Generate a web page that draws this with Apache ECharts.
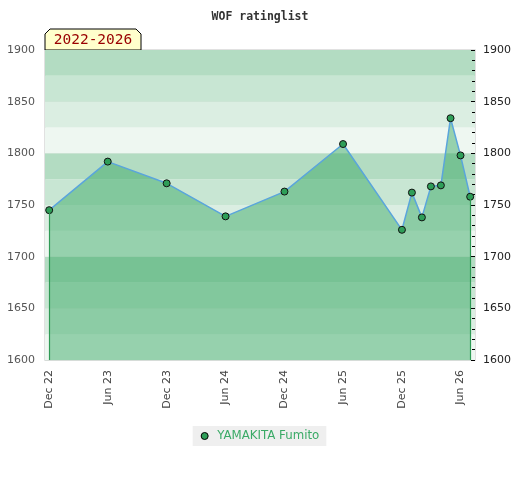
<!DOCTYPE html>
<html>
<head>
<meta charset="utf-8">
<script src="https://cdn.jsdelivr.net/npm/echarts@6/dist/echarts.min.js"></script>
<style>
html,body{margin:0;padding:0;background:#fff;}
#chart{width:520px;height:480px;}
</style>
</head>
<body>
<div id="chart"></div>
<script>
// ---- data ----
const dates = ['2022-12-01','2023-06-01','2023-12-01','2024-06-01','2024-12-01','2025-06-01','2025-12-01','2026-01-01','2026-02-01','2026-03-01','2026-04-01','2026-05-01','2026-06-01','2026-07-01'];
const ratings = [1745,1792,1771,1739,1763,1809,1726,1762,1738,1768,1769,1834,1798,1758];
const tickDates = ['2022-12-01','2023-06-01','2023-12-01','2024-06-01','2024-12-01','2025-06-01','2025-12-01','2026-06-01'];
const tickLabels = ['Dec 22','Jun 23','Dec 23','Jun 24','Dec 24','Jun 25','Dec 25','Jun 26'];
const playerName = 'YAMAKITA Fumito';
const titleText = 'WOF ratinglist';
const periodText = '2022-2026';

const toTime = d => echarts.time.parse(d).getTime();
const tickTimes = tickDates.map(toTime);
const seriesData = dates.map((d, i) => [toTime(d), ratings[i]]);
const first = seriesData[0], last = seriesData[seriesData.length - 1];

const chart = echarts.init(document.getElementById('chart'));
chart.setOption({
  animation: false,
  backgroundColor: '#fff',
  title: {
    text: titleText, left: 'center', top: 6,
    textStyle: { fontFamily: 'DejaVu Sans Mono', fontWeight: 'bold', fontSize: 11.5, color: '#333' }
  },
  grid: { left: 45, right: 45, top: 50, bottom: 120, show: true, borderColor: '#d8d8d8', borderWidth: 1.5, backgroundColor: 'transparent' },
  xAxis: {
    type: 'value',
    min: toTime('2022-11-18'), max: toTime('2026-07-16'),
    axisLine: { show: false }, axisTick: { show: false }, splitLine: { show: false },
    axisLabel: {
      customValues: tickTimes,
      rotate: 90, margin: 10, color: '#444', fontSize: 11, fontFamily: 'DejaVu Sans',
      formatter: v => { const i = tickTimes.findIndex(t => Math.abs(t - v) < 86400000); return i >= 0 ? tickLabels[i] : ''; }
    }
  },
  yAxis: [
    {
      type: 'value', min: 1600, max: 1900, interval: 50, position: 'left',
      axisLine: { show: false }, axisTick: { show: false },
      axisLabel: { color: '#555', fontSize: 11, fontFamily: 'DejaVu Sans', margin: 10, formatter: v => String(v) },
      splitLine: { show: true, lineStyle: { color: '#d6dcd8', width: 1 } }
    },
    {
      type: 'value', min: 1600, max: 1900, interval: 50, position: 'right',
      axisLine: { show: false },
      axisTick: { show: true, inside: true, length: 4, lineStyle: { color: '#000' } },
      minorTick: { show: true, splitNumber: 5, length: 3, lineStyle: { color: '#000' } },
      axisLabel: { color: '#222', fontSize: 11, fontFamily: 'DejaVu Sans', margin: 8, formatter: v => String(v) },
      splitLine: { show: false }
    },
    {
      type: 'value', min: 1600, max: 1900, interval: 25, position: 'left',
      axisLine: { show: false }, axisTick: { show: false }, axisLabel: { show: false },
      splitLine: { show: false },
      splitArea: { show: true, areaStyle: { color: ['#eef7f1', '#dbeee2', '#c8e6d3', '#b3dcc2'] } }
    }
  ],
  legend: {
    bottom: 34, left: 'center',
    data: [playerName],
    backgroundColor: '#efefef', padding: [4, 7, 4, 8],
    icon: 'circle', itemWidth: 7, itemHeight: 7, itemGap: 10,
    itemStyle: { color: '#2e9e58', borderColor: '#000', borderWidth: 1 },
    textStyle: { color: '#3aaa66', fontSize: 11.8, fontFamily: 'DejaVu Sans', padding: [0, 0, 0, 4] }
  },
  series: [{
    name: playerName,
    type: 'line',
    yAxisIndex: 0,
    data: seriesData,
    symbol: 'circle', symbolSize: 7,
    lineStyle: { color: '#5aa5dc', width: 1.5 },
    itemStyle: { color: '#2e9e58', borderColor: '#111', borderWidth: 1 },
    areaStyle: { color: 'rgba(52,165,96,0.47)', opacity: 1, origin: 'start' },
    markLine: {
      silent: true, symbol: ['none', 'none'], label: { show: false },
      lineStyle: { color: '#2f9a55', width: 1.2, type: 'solid', opacity: 1 },
      data: [
        [{ coord: [first[0], first[1]] }, { coord: [first[0], 1600] }],
        [{ coord: [last[0], last[1]] }, { coord: [last[0], 1600] }]
      ]
    },
    z: 3
  }],
  graphic: [{
    type: 'group', z: 100,
    children: [
      { type: 'polygon', shape: { points: [[45,50],[45,34],[50,29],[136,29],[141,34],[141,50]] },
        style: { fill: '#ffffcc', stroke: '#000', lineWidth: 1 } },
      { type: 'text', x: 93, y: 40,
        style: { text: periodText, fill: '#990000', font: '14.5px "DejaVu Sans Mono"', align: 'center', verticalAlign: 'middle' } }
    ]
  }]
});
</script>
</body>
</html>
